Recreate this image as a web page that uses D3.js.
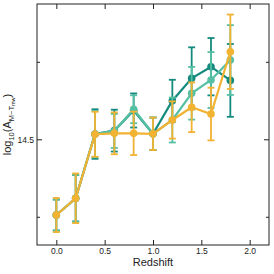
<!DOCTYPE html>
<html>
<head>
    <meta charset="utf-8">
    <style>
        body { margin: 0; background: white; }
        svg { font-family: "Liberation Sans", Arial, sans-serif; }
        .axis path { display: none; }
        .axis line { stroke: #222; }
        .axis text { font-size: 8.5px; fill: #222; }
    </style>
    <script src="https://d3js.org/d3.v7.min.js"></script>
</head>
<body>
<div id="chart"></div>
<script>
    // redshift bins
    var redshift = [0.0, 0.2, 0.4, 0.6, 0.8, 1.0, 1.2, 1.4, 1.6, 1.8];

    // dark teal series
    var darkVals = [14.4023, 14.4239, 14.5068, 14.5112, 14.5372, 14.5071, 14.5498, 14.5787, 14.5937, 14.5760];
    var darkErr  = [0.020, 0.030, 0.032, 0.027, 0.022, 0.021, 0.027, 0.040, 0.037, 0.047];

    // light teal series
    var lightVals = [14.4023, 14.4239, 14.5068, 14.5108, 14.5388, 14.5071, 14.5249, 14.5594, 14.5765, 14.6023];
    var lightErr  = [0.020, 0.030, 0.030, 0.022, 0.018, 0.021, 0.029, 0.034, 0.036, 0.045];

    // orange series
    var orangeVals = [14.4023, 14.4239, 14.5065, 14.5077, 14.5077, 14.5071, 14.5249, 14.5413, 14.5326, 14.6130];
    var orangeErr  = [0.022, 0.032, 0.029, 0.027, 0.028, 0.021, 0.024, 0.032, 0.034, 0.048];

    var xTicks = [0.0, 0.5, 1.0, 1.5, 2.0];
    var yTicks = [14.4, 14.5, 14.6];
    var yLabelled = [14.5];

    var series = [
        {vals: darkVals, err: darkErr, color: "#158a7e"},
        {vals: lightVals, err: lightErr, color: "#55c0a3"},
        {vals: orangeVals, err: orangeErr, color: "#f2b232"}
    ];

    var W = 274, H = 274;
    var mLeft = 37, mRight = 269, mTop = 4, mBottom = 245;

    var x = d3.scaleLinear().domain([-0.2, 2.2]).range([mLeft, mRight]);
    var y = d3.scaleLinear().domain([14.3636, 14.6746]).range([mBottom, mTop]);

    var svg = d3.select("#chart").append("svg")
        .attr("width", W)
        .attr("height", H);

    // error bars, lines, markers
    var line = d3.line()
        .x(function (d) { return x(d.z); })
        .y(function (d) { return y(d.v); });

    series.forEach(function (s) {
        var pts = redshift.map(function (z, i) {
            return {z: z, v: s.vals[i], e: s.err[i]};
        });
        var g = svg.append("g");

        var eb = g.selectAll(".eb").data(pts).enter().append("g")
            .attr("stroke", s.color)
            .attr("stroke-width", 1.8);
        eb.append("line")
            .attr("x1", function (d) { return x(d.z); })
            .attr("x2", function (d) { return x(d.z); })
            .attr("y1", function (d) { return y(d.v - d.e); })
            .attr("y2", function (d) { return y(d.v + d.e); });
        eb.append("line")
            .attr("x1", function (d) { return x(d.z) - 3.5; })
            .attr("x2", function (d) { return x(d.z) + 3.5; })
            .attr("y1", function (d) { return y(d.v - d.e); })
            .attr("y2", function (d) { return y(d.v - d.e); });
        eb.append("line")
            .attr("x1", function (d) { return x(d.z) - 3.5; })
            .attr("x2", function (d) { return x(d.z) + 3.5; })
            .attr("y1", function (d) { return y(d.v + d.e); })
            .attr("y2", function (d) { return y(d.v + d.e); });

        g.append("path")
            .datum(pts)
            .attr("fill", "none")
            .attr("stroke", s.color)
            .attr("stroke-width", 2.2)
            .attr("d", line);

        g.selectAll("circle").data(pts).enter().append("circle")
            .attr("cx", function (d) { return x(d.z); })
            .attr("cy", function (d) { return y(d.v); })
            .attr("r", 3.8)
            .attr("fill", s.color);
    });

    // axes, ticks pointing inward on all four sides
    var fmtY = function (d) { return yLabelled.indexOf(d) >= 0 ? d3.format(".1f")(d) : ""; };

    svg.append("g").attr("class", "axis")
        .attr("transform", "translate(0," + mBottom + ")")
        .call(d3.axisBottom(x).tickValues(xTicks).tickFormat(d3.format(".1f"))
            .tickSizeInner(-5).tickSizeOuter(0).tickPadding(3));
    svg.append("g").attr("class", "axis")
        .attr("transform", "translate(0," + mTop + ")")
        .call(d3.axisTop(x).tickValues(xTicks).tickFormat("")
            .tickSizeInner(-5).tickSizeOuter(0));
    var yl = svg.append("g").attr("class", "axis")
        .attr("transform", "translate(" + mLeft + ",0)")
        .call(d3.axisLeft(y).tickValues(yTicks).tickFormat(fmtY)
            .tickSizeInner(-5).tickSizeOuter(0).tickPadding(3));
    var yr = svg.append("g").attr("class", "axis")
        .attr("transform", "translate(" + mRight + ",0)")
        .call(d3.axisRight(y).tickValues(yTicks).tickFormat("")
            .tickSizeInner(-5).tickSizeOuter(0));
    // unlabelled ticks are shorter
    yl.selectAll(".tick line").attr("x2", function (d) { return yLabelled.indexOf(d) >= 0 ? 5 : 3; });
    yr.selectAll(".tick line").attr("x2", function (d) { return yLabelled.indexOf(d) >= 0 ? -5 : -3; });

    // frame
    svg.append("rect")
        .attr("x", mLeft).attr("y", mTop)
        .attr("width", mRight - mLeft).attr("height", mBottom - mTop)
        .attr("fill", "none").attr("stroke", "#222").attr("stroke-width", 1);

    // axis titles
    svg.append("text")
        .attr("x", (mLeft + mRight) / 2).attr("y", 266)
        .attr("text-anchor", "middle")
        .attr("font-size", 11).attr("fill", "#222")
        .text("Redshift");

    var yt = svg.append("text")
        .attr("transform", "translate(11," + (mTop + mBottom) / 2 + ") rotate(-90)")
        .attr("text-anchor", "middle")
        .attr("font-size", 11).attr("fill", "#222");
    yt.append("tspan").text("log");
    yt.append("tspan").attr("font-size", 7.5).attr("dy", 2.5).text("10");
    yt.append("tspan").attr("dy", -2.5).text("(A");
    yt.append("tspan").attr("font-size", 7.5).attr("dy", 2.5).text("M\u2212T");
    yt.append("tspan").attr("font-size", 5.5).attr("dy", 1.5).text("mw");
    yt.append("tspan").attr("dy", -4).text(")");
</script>
</body>
</html>
